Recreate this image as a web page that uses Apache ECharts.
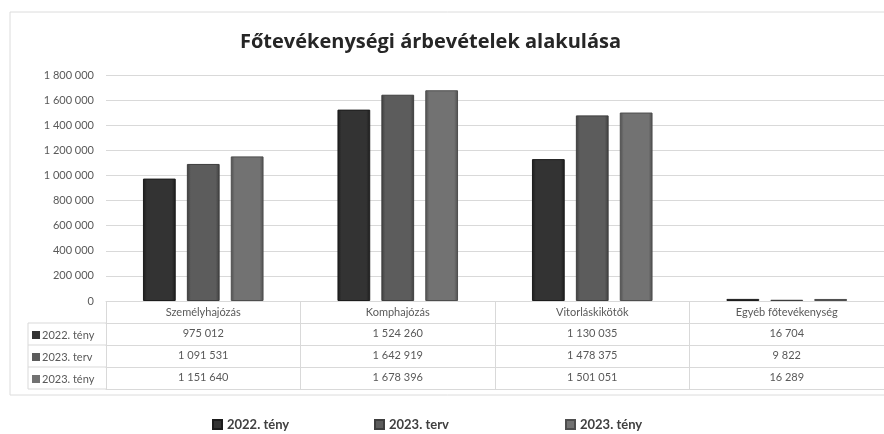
<!DOCTYPE html>
<html>
<head>
<meta charset="utf-8">
<script src="https://cdn.jsdelivr.net/npm/echarts@6/dist/echarts.min.js"></script>
<style>
  html, body { margin: 0; padding: 0; background: #fff; }
  #chart { width: 884px; height: 434px; }
</style>
</head>
<body>
<div id="chart"></div>
<script>
const categories = ['Személyhajózás', 'Komphajózás', 'Vitorláskikötők', 'Egyéb főtevékenység']
const seriesNames = ['2022. tény', '2023. terv', '2023. tény']
const teny2022 = [975012, 1524260, 1130035, 16704]
const terv2023 = [1091531, 1642919, 1478375, 9822]
const teny2023 = [1151640, 1678396, 1501051, 16289]
const rows = [teny2022, terv2023, teny2023]
const colors = ['#333333', '#5c5c5c', '#727272']
const edges = ['#1c1c1c', '#3e3e3e', '#4e4e4e']

// ezres tagolás szóközzel
const fmt = (v) => String(v).replace(/\B(?=(\d{3})+(?!\d))/g, ' ')

const font = 'Lato, "Open Sans", sans-serif'
const txtColor = '#595959'
const lineColor = '#d9d9d9'

const gridLeft = 106
const gridBottom = 133
const rowH = 22

function barColor(i) {
  return new echarts.graphic.LinearGradient(0, 0, 1, 0, [
    { offset: 0, color: edges[i] },
    { offset: 0.12, color: colors[i] },
    { offset: 0.88, color: colors[i] },
    { offset: 1, color: edges[i] }
  ])
}

// táblázat sorai: külön x tengelyek
const tableAxes = rows.map((row, k) => ({
  type: 'category',
  data: categories,
  position: 'bottom',
  offset: rowH * (k + 1),
  axisLine: { show: true, lineStyle: { color: lineColor } },
  axisTick: { show: false },
  axisLabel: {
    margin: 5,
    color: txtColor,
    fontFamily: font,
    fontSize: 11,
    formatter: (value, idx) => fmt(row[idx])
  }
}))

const option = {
  animation: false,
  title: {
    text: 'Főtevékenységi árbevételek alakulása',
    left: 235,
    top: 27,
    textStyle: { fontFamily: '"Open Sans", sans-serif', fontWeight: 'bold', fontSize: 20, color: '#262626' }
  },
  legend: seriesNames.map((name, i) => ({
    data: [name],
    left: [207, 369, 560][i],
    top: 413,
    icon: 'rect',
    itemWidth: 9,
    itemHeight: 9,
    itemGap: 4,
    textStyle: { fontFamily: font, fontWeight: 'bold', fontSize: 13, color: '#404040' }
  })),
  grid: {
    left: gridLeft,
    top: 75,
    width: 788,
    bottom: gridBottom
  },
  xAxis: [
    {
      type: 'category',
      data: categories,
      axisLine: { show: true, lineStyle: { color: lineColor } },
      axisTick: { show: true, length: rowH * 4, lineStyle: { color: lineColor } },
      axisLabel: { margin: 6, color: txtColor, fontFamily: font, fontSize: 11 }
    },
    ...tableAxes,
    {
      type: 'category',
      data: categories,
      position: 'bottom',
      offset: rowH * 4,
      axisLine: { show: true, lineStyle: { color: lineColor } },
      axisTick: { show: false },
      axisLabel: { show: false }
    }
  ],
  yAxis: {
    type: 'value',
    min: 0,
    max: 1800000,
    interval: 200000,
    axisLine: { show: false },
    axisTick: { show: false },
    axisLabel: { margin: 12, color: txtColor, fontFamily: font, fontSize: 11, formatter: (v) => fmt(v) },
    splitLine: { lineStyle: { color: lineColor } }
  },
  series: rows.map((row, i) => ({
    name: seriesNames[i],
    type: 'bar',
    data: row,
    barGap: '34%',
    barCategoryGap: '38%',
    itemStyle: { color: barColor(i), borderColor: edges[i], borderWidth: 1 }
  })),
  graphic: [
    // keret
    { type: 'rect', shape: { x: 10, y: 12, width: 890, height: 383 }, style: { fill: 'none', stroke: '#dcdcdc', lineWidth: 1 }, silent: true },
    // táblázat bal oldala
    ...[1, 2, 3, 4].map((k) => ({
      type: 'line',
      shape: { x1: 28, y1: 301 + rowH * k, x2: gridLeft, y2: 301 + rowH * k },
      style: { stroke: lineColor, lineWidth: 1 }
    })),
    { type: 'line', shape: { x1: 28, y1: 301 + rowH, x2: 28, y2: 301 + rowH * 4 }, style: { stroke: lineColor, lineWidth: 1 } },
    ...seriesNames.map((name, k) => ({
      type: 'group',
      left: 32,
      top: 301 + rowH * (k + 1) + 7,
      children: [
        { type: 'rect', shape: { x: 0, y: 1, width: 8, height: 8 }, style: { fill: colors[k] } },
        { type: 'text', x: 10, y: 0, style: { text: name, fill: txtColor, font: '11px ' + font } }
      ]
    }))
  ]
}

const chart = echarts.init(document.getElementById('chart'))
chart.setOption(option)
window.addEventListener('resize', () => chart.resize())
</script>
</body>
</html>
